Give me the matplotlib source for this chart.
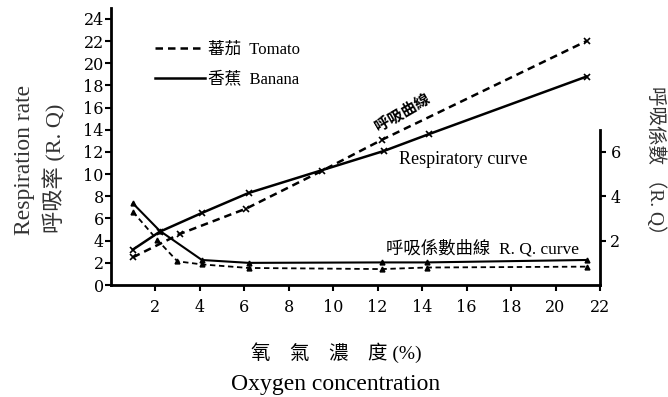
import numpy as np
import matplotlib.pyplot as plt
from matplotlib.lines import Line2D

# oxygen concentration (%) and respiration rate
tomato_x = [1.0, 3.1, 6.1, 9.5, 12.2, 21.4]
tomato_rate = [2.5, 4.6, 6.9, 10.3, 13.1, 22.0]
banana_x = [1.0, 2.2, 4.1, 6.2, 12.3, 14.3, 21.4]
banana_rate = [3.2, 4.8, 6.5, 8.3, 12.1, 13.6, 18.8]

# R.Q. curves (right axis units)
tomato_rq_x = [1.0, 2.1, 3.0, 4.1, 6.2, 12.2, 14.2, 21.4]
tomato_rq = [3.3, 2.03, 1.07, 0.93, 0.77, 0.72, 0.79, 0.83]
banana_rq_x = [1.0, 2.2, 4.1, 6.2, 12.2, 14.2, 21.4]
banana_rq = [3.68, 2.45, 1.13, 1.0, 1.02, 1.02, 1.13]

x_ticks = [2, 4, 6, 8, 10, 12, 14, 16, 18, 20, 22]
left_ticks = [0, 2, 4, 6, 8, 10, 12, 14, 16, 18, 20, 22, 24]
right_ticks = [2, 4, 6]

serif = ['Liberation Serif', 'Noto Sans CJK TC']
numfont = ['DejaVu Serif']
cjk = ['Noto Sans CJK TC', 'Liberation Serif']
dash = (0, (3, 2))

fig = plt.figure(figsize=(6.68, 3.97), dpi=100)
ax = fig.add_axes([0.1657, 0.282, 0.7325, 0.6985])
ax2 = ax.twinx()

ax.plot(tomato_x, tomato_rate, color='black', lw=1.8, ls=dash, marker='x', ms=4, mew=1.2)
ax.plot(banana_x, banana_rate, color='black', lw=1.8, marker='x', ms=4, mew=1.2)
ax2.plot(tomato_rq_x, tomato_rq, color='black', lw=1.3, ls=dash, marker='^', ms=3.5)
ax2.plot(banana_rq_x, banana_rq, color='black', lw=1.5, marker='^', ms=3.5)

ax.set_xlim(0, 22)
ax.set_ylim(0, 25)
ax2.set_ylim(0, 12.5)

ax.set_xticks(x_ticks)
ax.set_yticks(left_ticks)
ax2.set_yticks(right_ticks)
for a in (ax, ax2):
	a.spines['top'].set_visible(False)
	for s in a.spines.values():
		s.set_linewidth(2)
	a.tick_params(direction='out', length=4, width=1.5, labelsize=11.5)
	for lbl in a.get_xticklabels() + a.get_yticklabels():
		lbl.set_family(numfont)
ax.spines['right'].set_visible(False)
ax2.spines['left'].set_visible(False)
ax2.spines['bottom'].set_visible(False)
ax2.spines['right'].set_bounds(0, 7)
ax.tick_params(axis='y', pad=1)
ax.tick_params(axis='x', pad=6)

handles = [Line2D([], [], color='black', lw=1.8, ls=dash),
		Line2D([], [], color='black', lw=1.8)]
ax.legend(handles, ['蕃茄  Tomato', '香蕉  Banana'], loc='upper left',
		bbox_to_anchor=(0.06, 0.93), frameon=False, handlelength=3.0,
		handletextpad=0.2, labelspacing=0.8, prop={'family': serif, 'size': 12})

ax.text(13.1, 15.6, '呼吸曲線', rotation=30, ha='center', va='center',
		family=cjk, fontsize=11, fontweight='bold')
ax.text(12.97, 11.3, 'Respiratory curve', ha='left', va='center',
		family=serif, fontsize=13)
ax.text(12.4, 3.3, '呼吸係數曲線  R. Q. curve', ha='left', va='center',
		family=serif, fontsize=12.5)

fig.text(0.037, 0.597, 'Respiration rate', rotation=90, ha='center', va='center',
		family=serif, fontsize=17, color='#333333')
fig.text(0.082, 0.577, '呼吸率 (R. Q)', rotation=90, ha='center', va='center',
		family=serif, fontsize=16, color='#333333')
fig.text(0.982, 0.584, '呼吸係數 （R. Q）', rotation=270, ha='center', va='center',
		family=serif, fontsize=14, color='#333333')
fig.text(0.503, 0.113, '氧    氣    濃    度 (%)', ha='center', va='center',
		family=serif, fontsize=14)
fig.text(0.503, 0.032, 'Oxygen concentration', ha='center', va='center',
		family=serif, fontsize=17)

fig.savefig('out.png', dpi=100)
